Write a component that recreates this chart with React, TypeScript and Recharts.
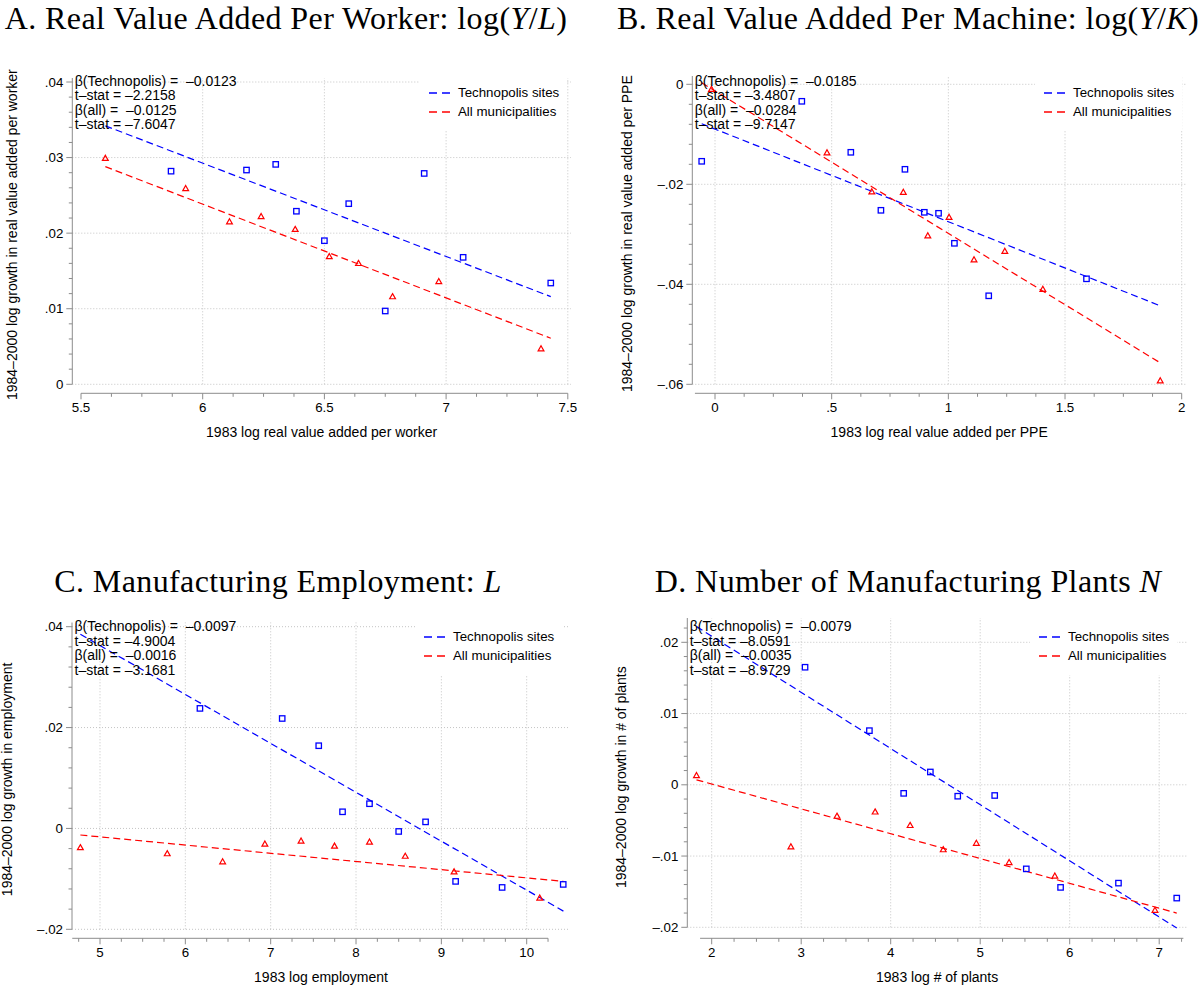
import React from "react";
import { ScatterChart, Scatter, XAxis, YAxis, ReferenceLine } from "recharts";

type Pt = { x: number; y: number };

const SANS = '"Liberation Sans", Arial, Helvetica, sans-serif';
const SERIF = '"Liberation Serif", "Times New Roman", serif';
const BLUE = "#0000ff";
const RED = "#ff0000";
const AXIS = "#8c8c8c";
const GRID = "#c4c4c4";
const X_H = 50;
const Y_W = 60;

// A. value added per worker
const workerTechno: Pt[] = [
  { x: 5.87, y: 0.0282 }, { x: 6.18, y: 0.02835 }, { x: 6.3, y: 0.0291 }, { x: 6.385, y: 0.0229 },
  { x: 6.5, y: 0.019 }, { x: 6.6, y: 0.0239 }, { x: 6.75, y: 0.0097 }, { x: 6.91, y: 0.0279 },
  { x: 7.07, y: 0.0168 }, { x: 7.43, y: 0.0134 },
];
const workerAll: Pt[] = [
  { x: 5.6, y: 0.0299 }, { x: 5.93, y: 0.0259 }, { x: 6.11, y: 0.0215 }, { x: 6.24, y: 0.0222 },
  { x: 6.38, y: 0.0205 }, { x: 6.52, y: 0.0169 }, { x: 6.64, y: 0.016 }, { x: 6.78, y: 0.0116 },
  { x: 6.97, y: 0.0136 }, { x: 7.39, y: 0.0047 },
];
const workerTechnoFit: Pt[] = [{ x: 5.6, y: 0.0342 }, { x: 7.43, y: 0.0116 }];
const workerAllFit: Pt[] = [{ x: 5.6, y: 0.0288 }, { x: 7.43, y: 0.0061 }];
const workerStats = ["β(Technopolis) =  –0.0123", "t–stat = –2.2158", "β(all) =  –0.0125", "t–stat = –7.6047"];

// B. value added per machine
const machineTechno: Pt[] = [
  { x: -0.057, y: -0.0154 }, { x: 0.372, y: -0.0034 }, { x: 0.582, y: -0.0136 }, { x: 0.814, y: -0.017 },
  { x: 0.711, y: -0.0252 }, { x: 0.897, y: -0.0256 }, { x: 0.958, y: -0.0258 }, { x: 1.026, y: -0.0318 },
  { x: 1.173, y: -0.0423 }, { x: 1.592, y: -0.0389 },
];
const machineAll: Pt[] = [
  { x: -0.015, y: -0.001 }, { x: 0.48, y: -0.0137 }, { x: 0.672, y: -0.0215 }, { x: 0.807, y: -0.0216 },
  { x: 0.912, y: -0.0303 }, { x: 1.003, y: -0.0266 }, { x: 1.11, y: -0.0351 }, { x: 1.242, y: -0.0334 },
  { x: 1.405, y: -0.041 }, { x: 1.908, y: -0.0593 },
];
const machineTechnoFit: Pt[] = [{ x: -0.057, y: -0.0079 }, { x: 1.908, y: -0.0443 }];
const machineAllFit: Pt[] = [{ x: -0.057, y: 0.0003 }, { x: 1.908, y: -0.0557 }];
const machineStats = ["β(Technopolis) =  –0.0185", "t–stat = –3.4807", "β(all) =  –0.0284", "t–stat = –9.7147"];

// C. manufacturing employment
const employTechno: Pt[] = [
  { x: 6.171, y: 0.0238 }, { x: 7.135, y: 0.0218 }, { x: 7.563, y: 0.0164 }, { x: 7.842, y: 0.0033 },
  { x: 8.158, y: 0.0049 }, { x: 8.5, y: -0.0006 }, { x: 8.815, y: 0.0013 }, { x: 9.167, y: -0.0105 },
  { x: 9.712, y: -0.0117 }, { x: 10.428, y: -0.0111 },
];
const employAll: Pt[] = [
  { x: 4.77, y: -0.0038 }, { x: 5.788, y: -0.005 }, { x: 6.437, y: -0.0066 }, { x: 6.932, y: -0.0031 },
  { x: 7.356, y: -0.0025 }, { x: 7.748, y: -0.0035 }, { x: 8.158, y: -0.0027 }, { x: 8.577, y: -0.0055 },
  { x: 9.149, y: -0.0086 }, { x: 10.153, y: -0.0138 },
];
const employTechnoFit: Pt[] = [{ x: 4.77, y: 0.0385 }, { x: 10.43, y: -0.0164 }];
const employAllFit: Pt[] = [{ x: 4.77, y: -0.0013 }, { x: 10.43, y: -0.0105 }];
const employStats = ["β(Technopolis) =  –0.0097", "t–stat = –4.9004", "β(all) =  –0.0016", "t–stat = –3.1681"];

// D. number of plants
const plantsTechno: Pt[] = [
  { x: 3.043, y: 0.0165 }, { x: 3.762, y: 0.0076 }, { x: 4.443, y: 0.0018 }, { x: 4.145, y: -0.0012 },
  { x: 4.749, y: -0.0016 }, { x: 5.162, y: -0.0015 }, { x: 5.515, y: -0.0118 }, { x: 5.898, y: -0.0144 },
  { x: 6.545, y: -0.0138 }, { x: 7.196, y: -0.0159 },
];
const plantsAll: Pt[] = [
  { x: 1.83, y: 0.0013 }, { x: 2.885, y: -0.0087 }, { x: 3.4, y: -0.0044 }, { x: 3.826, y: -0.0038 },
  { x: 4.217, y: -0.0057 }, { x: 4.587, y: -0.0091 }, { x: 4.957, y: -0.0082 }, { x: 5.323, y: -0.0109 },
  { x: 5.834, y: -0.0128 }, { x: 6.953, y: -0.0176 },
];
const plantsTechnoFit: Pt[] = [{ x: 1.83, y: 0.0222 }, { x: 7.196, y: -0.0201 }];
const plantsAllFit: Pt[] = [{ x: 1.83, y: 0.0007 }, { x: 7.196, y: -0.018 }];
const plantsStats = ["β(Technopolis) =  –0.0079", "t–stat = –8.0591", "β(all) =  –0.0035", "t–stat = –8.9729"];

const seriesNames = ["Technopolis sites", "All municipalities"];

// minor tick positions between the labelled ones
function steps(from: number, to: number, step: number, skip: number[]) {
  const out: number[] = [];
  for (let i = 0; from + i * step <= to + 1e-9; i++) {
    const v = +(from + i * step).toFixed(6);
    if (!skip.some((m) => Math.abs(m - v) < 1e-9)) out.push(v);
  }
  return out;
}

// pixel calibration -> axis domain covering the plot edges
function toDomain(cal: number[], lo: number, hi: number): [number, number] {
  const [v1, p1, v2, p2] = cal;
  const k = (v2 - v1) / (p2 - p1);
  const a = v1 + (lo - p1) * k;
  const b = v1 + (hi - p1) * k;
  return [Math.min(a, b), Math.max(a, b)];
}

const fmtTick = (v: number) => {
  if (Math.abs(v) < 1e-12) return "0";
  const s = Math.abs(v).toString().replace(/^0\./, ".");
  return (v < 0 ? "–" : "") + s;
};

const isMajor = (v: number, majors: number[]) => majors.some((m) => Math.abs(m - v) < 1e-9);

function XTick(props: any) {
  const { x, y, payload, majors } = props;
  const major = isMajor(payload.value, majors);
  return (
    <g>
      <line x1={x} x2={x} y1={y} y2={y + (major ? 6 : 3.5)} stroke={AXIS} strokeWidth={1} />
      {major && (
        <text x={x} y={y + 14} textAnchor="middle" dominantBaseline="central" fontSize={13.3} fontFamily={SANS} fill="#000">
          {fmtTick(payload.value)}
        </text>
      )}
    </g>
  );
}

function YTick(props: any) {
  const { x, y, payload, majors } = props;
  const major = isMajor(payload.value, majors);
  return (
    <g>
      <line x1={x} x2={x - (major ? 6 : 3.5)} y1={y} y2={y} stroke={AXIS} strokeWidth={1} />
      {major && (
        <text x={x - 9} y={y} textAnchor="end" dominantBaseline="central" fontSize={13.3} fontFamily={SANS} fill="#000">
          {fmtTick(payload.value)}
        </text>
      )}
    </g>
  );
}

const Square = (p: any) => (
  <rect x={p.cx - 2.7} y={p.cy - 2.7} width={5.4} height={5.4} fill="none" stroke={BLUE} strokeWidth={1.3} />
);
const Triangle = (p: any) => (
  <path
    d={`M${p.cx},${p.cy - 3} L${p.cx + 2.9},${p.cy + 2.1} L${p.cx - 2.9},${p.cy + 2.1} Z`}
    fill="none"
    stroke={RED}
    strokeWidth={1.2}
  />
);

type PanelSpec = {
  title: React.ReactNode;
  titleCenter: number;
  titleTop: number;
  box: [number, number, number, number];
  plot: [number, number, number, number];
  xCal: number[];
  yCal: number[];
  xTicks: number[];
  yTicks: number[];
  xMinor: number[];
  yMinor: number[];
  xGrid: number[];
  xAxisSpan: [number, number];
  yAxisFrom: number;
  techno: Pt[];
  all: Pt[];
  technoFit: Pt[];
  allFit: Pt[];
  stats: string[];
  statsTop: number;
  keyX: number;
  keyTop: number;
  xTitle: string;
  yTitle: string;
  yTitleX: number;
};

const panels: PanelSpec[] = [
  {
    title: <>A. Real Value Added Per Worker: log(<i>Y</i>/<i>L</i>)</>,
    titleCenter: 286,
    titleTop: 1.5,
    box: [0, 40, 599, 420],
    plot: [72.3, 78, 571, 393.3],
    xCal: [5.5, 81, 7.5, 567.8],
    yCal: [0, 384.3, 0.04, 82],
    xTicks: [5.5, 6, 6.5, 7, 7.5],
    yTicks: [0, 0.01, 0.02, 0.03, 0.04],
    xMinor: steps(5.5, 7.5, 0.125, [5.5, 6, 6.5, 7, 7.5]),
    yMinor: steps(0, 0.04, 0.002, [0, 0.01, 0.02, 0.03, 0.04]),
    xGrid: [6, 6.5, 7, 7.5],
    xAxisSpan: [5.5, 7.5],
    yAxisFrom: 0,
    techno: workerTechno,
    all: workerAll,
    technoFit: workerTechnoFit,
    allFit: workerAllFit,
    stats: workerStats,
    statsTop: 81,
    keyX: 429,
    keyTop: 92.7,
    xTitle: "1983 log real value added per worker",
    yTitle: "1984–2000 log growth in real value added per worker",
    yTitleX: 16.7,
  },
  {
    title: <>B. Real Value Added Per Machine: log(<i>Y</i>/<i>K</i>)</>,
    titleCenter: 908,
    titleTop: 1.5,
    box: [599, 40, 599, 420],
    plot: [692.3, 76, 1186, 393.3],
    xCal: [0, 715, 2, 1181.7],
    yCal: [0, 84.3, -0.06, 384.3],
    xTicks: [0, 0.5, 1, 1.5, 2],
    yTicks: [-0.06, -0.04, -0.02, 0],
    xMinor: steps(0, 2, 0.125, [0, 0.5, 1, 1.5, 2]),
    yMinor: steps(-0.06, 0, 0.004, [-0.06, -0.04, -0.02, 0]),
    xGrid: [0, 0.5, 1, 1.5, 2],
    xAxisSpan: [-0.086, 2],
    yAxisFrom: -0.06,
    techno: machineTechno,
    all: machineAll,
    technoFit: machineTechnoFit,
    allFit: machineAllFit,
    stats: machineStats,
    statsTop: 81,
    keyX: 1044,
    keyTop: 92.7,
    xTitle: "1983 log real value added per PPE",
    yTitle: "1984–2000 log growth in real value added per PPE",
    yTitleX: 632,
  },
  {
    title: <>C. Manufacturing Employment: <i>L</i></>,
    titleCenter: 278,
    titleTop: 564.5,
    box: [0, 585, 599, 406],
    plot: [72, 622.5, 570, 938.3],
    xCal: [5, 100, 10, 526.7],
    yCal: [0.04, 626.7, -0.02, 929.3],
    xTicks: [5, 6, 7, 8, 9, 10],
    yTicks: [-0.02, 0, 0.02, 0.04],
    xMinor: steps(4.75, 10.25, 0.25, [5, 6, 7, 8, 9, 10]),
    yMinor: steps(-0.02, 0.04, 0.004, [-0.02, 0, 0.02, 0.04]),
    xGrid: [5, 6, 7, 8, 9, 10],
    xAxisSpan: [4.675, 10.25],
    yAxisFrom: -0.02,
    techno: employTechno,
    all: employAll,
    technoFit: employTechnoFit,
    allFit: employAllFit,
    stats: employStats,
    statsTop: 626.7,
    keyX: 424,
    keyTop: 636.7,
    xTitle: "1983 log employment",
    yTitle: "1984–2000 log growth in employment",
    yTitleX: 12.5,
  },
  {
    title: <>D. Number of Manufacturing Plants <i>N</i></>,
    titleCenter: 908,
    titleTop: 564.5,
    box: [599, 585, 599, 406],
    plot: [687.3, 618, 1187, 938.3],
    xCal: [2, 711.7, 7, 1159.2],
    yCal: [0.02, 642.3, -0.02, 927.3],
    xTicks: [2, 3, 4, 5, 6, 7],
    yTicks: [-0.02, -0.01, 0, 0.01, 0.02],
    xMinor: steps(2, 7.25, 0.25, [2, 3, 4, 5, 6, 7]),
    yMinor: steps(-0.02, 0.022, 0.002, [-0.02, -0.01, 0, 0.01, 0.02]),
    xGrid: [2, 3, 4, 5, 6, 7],
    xAxisSpan: [1.87, 7.27],
    yAxisFrom: -0.02,
    techno: plantsTechno,
    all: plantsAll,
    technoFit: plantsTechnoFit,
    allFit: plantsAllFit,
    stats: plantsStats,
    statsTop: 626.7,
    keyX: 1039,
    keyTop: 636.7,
    xTitle: "1983 log # of plants",
    yTitle: "1984–2000 log growth in # of plants",
    yTitleX: 626,
  },
];

function Panel({ s }: { s: PanelSpec }) {
  const [bl, bt, bw, bh] = s.box;
  const [pl, pt, pr, pb] = s.plot;
  const xDom = toDomain(s.xCal, pl, pr);
  const yDom = toDomain(s.yCal, pb, pt);
  const margin = { left: pl - bl - Y_W, top: pt - bt, right: bl + bw - pr, bottom: bt + bh - pb - X_H };
  const dash = "7 4";
  return (
    <div style={{ position: "absolute", left: bl, top: bt }}>
      <ScatterChart width={bw} height={bh} margin={margin}>
        <XAxis
          type="number"
          dataKey="x"
          domain={xDom}
          allowDataOverflow
          ticks={[...s.xTicks, ...s.xMinor]}
          interval={0}
          tickSize={0}
          tickMargin={0}
          axisLine={false}
          tickLine={false}
          height={X_H}
          tick={<XTick majors={s.xTicks} />}
          label={() => (
            <text
              x={(pl + pr) / 2 - bl}
              y={pb + 39 - bt}
              textAnchor="middle"
              dominantBaseline="central"
              fontSize={14}
              fontFamily={SANS}
              fill="#000"
            >
              {s.xTitle}
            </text>
          )}
        />
        <YAxis
          type="number"
          dataKey="y"
          domain={yDom}
          allowDataOverflow
          ticks={[...s.yTicks, ...s.yMinor]}
          interval={0}
          tickSize={0}
          tickMargin={0}
          axisLine={false}
          tickLine={false}
          width={Y_W}
          tick={<YTick majors={s.yTicks} />}
          label={() => {
            const x = s.yTitleX - bl;
            const y = (pt + pb) / 2 - 1 - bt;
            return (
              <text x={x} y={y} transform={`rotate(-90, ${x}, ${y})`} textAnchor="middle" fontSize={14} fontFamily={SANS} fill="#000">
                {s.yTitle}
              </text>
            );
          }}
        />
        {s.yTicks.map((v) => (
          <ReferenceLine
            key={"gy" + v}
            segment={[{ x: xDom[0], y: v }, { x: xDom[1], y: v }]}
            stroke={GRID}
            strokeDasharray="1 2"
            ifOverflow="visible"
          />
        ))}
        {s.xGrid.map((v) => (
          <ReferenceLine
            key={"gx" + v}
            segment={[{ x: v, y: s.yAxisFrom }, { x: v, y: yDom[1] }]}
            stroke={GRID}
            strokeDasharray="1 2"
            ifOverflow="visible"
          />
        ))}
        <ReferenceLine
          segment={[{ x: xDom[0], y: s.yAxisFrom }, { x: xDom[0], y: yDom[1] }]}
          stroke={AXIS}
          ifOverflow="visible"
        />
        <ReferenceLine
          segment={[{ x: s.xAxisSpan[0], y: yDom[0] }, { x: s.xAxisSpan[1], y: yDom[0] }]}
          stroke={AXIS}
          ifOverflow="visible"
        />
        <ReferenceLine segment={s.technoFit} stroke={BLUE} strokeWidth={1.2} strokeDasharray={dash} ifOverflow="visible" />
        <ReferenceLine segment={s.allFit} stroke={RED} strokeWidth={1.2} strokeDasharray={dash} ifOverflow="visible" />
        <Scatter name={seriesNames[0]} data={s.techno} shape={Square} isAnimationActive={false} />
        <Scatter name={seriesNames[1]} data={s.all} shape={Triangle} isAnimationActive={false} />
      </ScatterChart>
    </div>
  );
}

function Stats({ s }: { s: PanelSpec }) {
  return (
    <div
      style={{
        position: "absolute",
        left: s.plot[0] + 2.5,
        top: s.statsTop - 7.25,
        fontFamily: SANS,
        fontSize: 14,
        lineHeight: "14.5px",
        whiteSpace: "pre",
        color: "#000",
      }}
    >
      {s.stats.map((t, i) => (
        <div key={i}>{t}</div>
      ))}
    </div>
  );
}

function Key({ s }: { s: PanelSpec }) {
  const colors = [BLUE, RED];
  return (
    <div
      style={{
        position: "absolute",
        left: s.keyX - 9,
        top: s.keyTop - 9.5 - 9,
        padding: "9px 8px 10px 9px",
        background: "#fff",
        fontFamily: SANS,
        fontSize: 13.3,
        lineHeight: "19px",
        color: "#000",
        whiteSpace: "pre",
      }}
    >
      {seriesNames.map((n, i) => (
        <div key={n} style={{ display: "flex", alignItems: "center", height: 19 }}>
          <svg width={21} height={4} style={{ marginRight: 8 }}>
            <line x1={0} x2={21} y1={2} y2={2} stroke={colors[i]} strokeWidth={1.3} strokeDasharray="8 5" />
          </svg>
          <span>{n}</span>
        </div>
      ))}
    </div>
  );
}

export default function App() {
  return (
    <div style={{ position: "absolute", left: 0, top: 0, width: 1198, height: 991, background: "#fff", overflow: "hidden" }}>
      {panels.map((s, i) => (
        <Panel key={i} s={s} />
      ))}
      {panels.map((s, i) => (
        <React.Fragment key={"o" + i}>
          <Stats s={s} />
          <Key s={s} />
          <div
            style={{
              position: "absolute",
              left: s.titleCenter,
              top: s.titleTop,
              transform: "translateX(-50%)",
              fontFamily: SERIF,
              fontSize: 32,
              letterSpacing: "0.4px",
              lineHeight: "32px",
              whiteSpace: "nowrap",
              color: "#000",
            }}
          >
            {s.title}
          </div>
        </React.Fragment>
      ))}
    </div>
  );
}
